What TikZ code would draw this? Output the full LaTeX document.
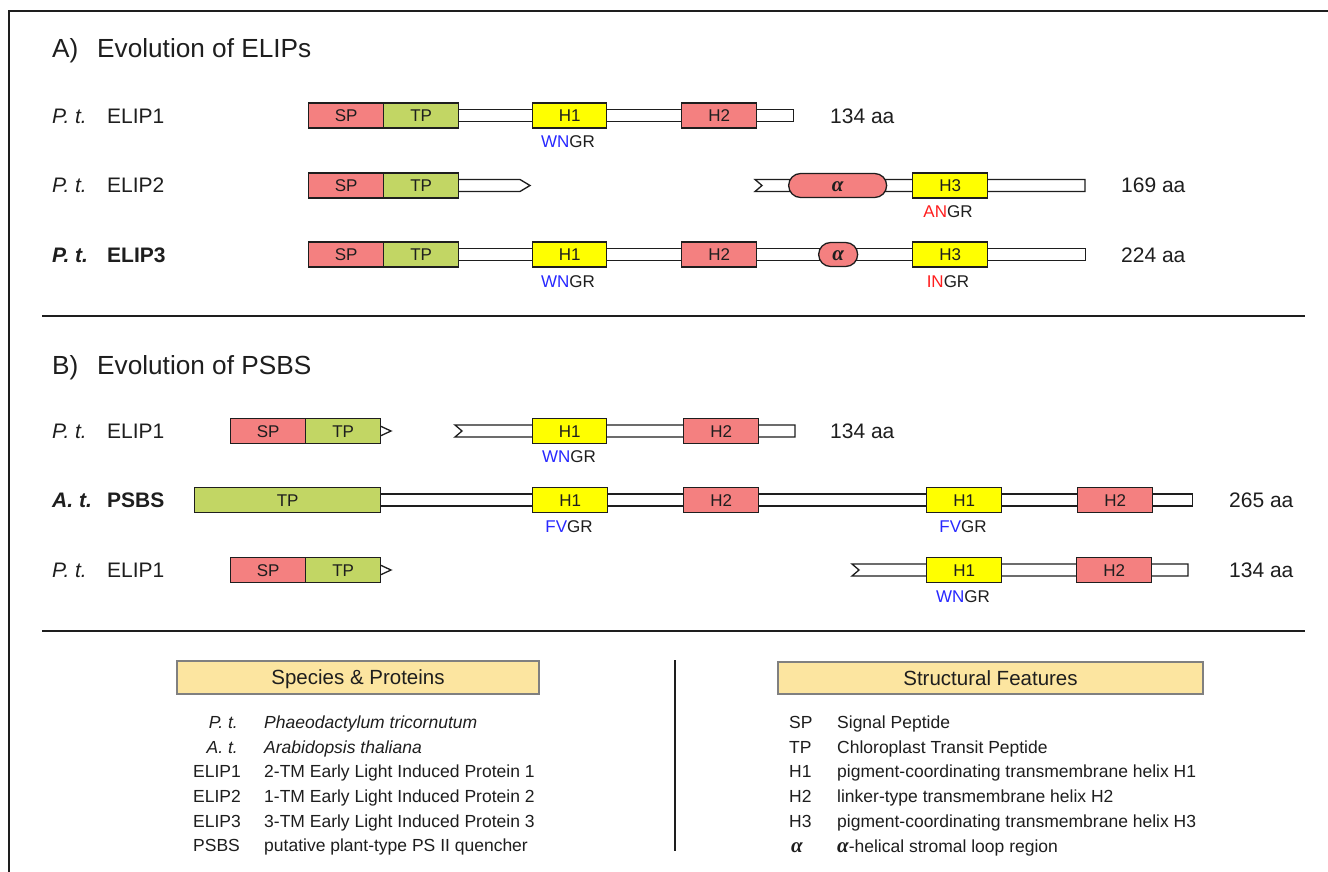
\documentclass[tikz,border=0pt]{standalone}
\usepackage{fontspec}
\setmainfont{Liberation Sans}
\newfontfamily\greekf{Liberation Serif}
\newcommand{\alp}{{\greekf\bfseries\itshape α}}
\definecolor{spc}{RGB}{244,128,128}
\definecolor{tpc}{RGB}{194,214,100}
\definecolor{hyc}{RGB}{255,255,0}
\definecolor{legc}{RGB}{252,229,160}
\definecolor{mblue}{RGB}{40,40,255}
\definecolor{mred}{RGB}{255,30,30}
\definecolor{ink}{RGB}{30,30,30}
\begin{document}
\begin{tikzpicture}[x=1pt,y=-1pt,
  seg/.style={draw=ink, line width=1.3pt, minimum height=25pt, inner sep=0pt, anchor=west,
    font=\fontsize{17}{20}\selectfont, text height=12.2pt, text depth=0pt, text=ink},
  spbox/.style={seg, fill=spc, minimum width=75pt},
  tpbox/.style={seg, fill=tpc, minimum width=75pt},
  hbox/.style={seg, fill=hyc, minimum width=74pt},
  h2box/.style={seg, fill=spc, minimum width=75pt},
  pill/.style={seg, fill=spc, rounded corners=12pt, minimum height=24pt, font=\fontsize{21}{24}\selectfont},
  bar/.style={draw=ink, fill=white, line width=1.3pt, minimum height=12pt, inner sep=0pt, anchor=west},
  barline/.style={draw=ink, fill=white, line width=1.3pt, line join=miter},
  lab/.style={anchor=west, inner sep=0pt, font=\fontsize{21}{25}\selectfont, text height=15pt, text depth=0pt, text=ink},
  ttl/.style={anchor=west, inner sep=0pt, font=\fontsize{26.2}{31}\selectfont, text height=18.8pt, text depth=0pt, text=ink},
  mot/.style={inner sep=0pt, font=\fontsize{17}{20}\selectfont, text height=12.2pt, text depth=0pt, text=ink},
  leg/.style={inner sep=0pt, font=\fontsize{17.5}{21}\selectfont, text height=12.5pt, text depth=0pt, text=ink},
  legbox/.style={draw=gray, line width=1.2pt, fill=legc, inner sep=0pt, font=\fontsize{20.5}{24}\selectfont, text height=14.7pt, text depth=0pt, text=ink},
  sepline/.style={draw=ink, line width=1.3pt}
]
\useasboundingbox (0,0) rectangle (1328,872);
\fill[white] (0,0) rectangle (1328,872);
% frame
\draw[ink, line width=1.5pt] (9,872) -- (9,11) -- (1328,11);

% ---------------- A ----------------
\node[ttl] (ta) at (52,48) {A)};
\node[ttl] (tat) at (97,48) {Evolution of ELIPs};

% Row A1
\node[lab] (a1s) at (52,116) {\itshape P. t.};
\node[lab] (a1n) at (107,116) {ELIP1};
\node[bar, minimum width=335pt] (a1bar) at (458,115.5) {};
\node[spbox] (a1sp) at (308,115.5) {SP};
\node[tpbox] (a1tp) at (383,115.5) {TP};
\node[hbox] (a1h1) at (532,115.5) {H1};
\node[h2box] (a1h2) at (681,115.5) {H2};
\node[mot] (a1m) at (568,141.5) {\textcolor{mblue}{WN}GR};
\node[lab] (a1aa) at (830,116) {134 aa};

% Row A2
\node[lab] (a2s) at (52,185.5) {\itshape P. t.};
\node[lab] (a2n) at (107,185.5) {ELIP2};
\draw[barline] (450,179.5) -- (520,179.5) -- (530,185.5) -- (520,191.5) -- (450,191.5);
\node[spbox] (a2sp) at (308,185.5) {SP};
\node[tpbox] (a2tp) at (383,185.5) {TP};
\draw[barline] (755,179.5) -- (1085,179.5) -- (1085,191.5) -- (755,191.5) -- (762,185.5) -- cycle;
\node[pill, minimum width=98pt] (a2al) at (788,185.5) {\alp};
\node[hbox, minimum width=75pt] (a2h3) at (912,185.5) {H3};
\node[mot] (a2m) at (948,211) {\textcolor{mred}{AN}GR};
\node[lab] (a2aa) at (1121,185.5) {169 aa};

% Row A3
\node[lab] (a3s) at (52,255) {\bfseries\itshape P. t.};
\node[lab] (a3n) at (107,255) {\bfseries ELIP3};
\node[bar, minimum width=627pt] (a3bar) at (458,254.5) {};
\node[spbox] (a3sp) at (308,254.5) {SP};
\node[tpbox] (a3tp) at (383,254.5) {TP};
\node[hbox] (a3h1) at (532,254.5) {H1};
\node[h2box] (a3h2) at (681,254.5) {H2};
\node[pill, minimum width=39pt] (a3al) at (818,254.5) {\alp};
\node[hbox, minimum width=75pt] (a3h3) at (912,254.5) {H3};
\node[mot] (a3m1) at (568,281) {\textcolor{mblue}{WN}GR};
\node[mot] (a3m2) at (948,281) {\textcolor{mred}{IN}GR};
\node[lab] (a3aa) at (1121,255) {224 aa};

\draw[sepline] (42,316) -- (1305,316);

% ---------------- B ----------------
\node[ttl] (tb) at (52,365) {B)};
\node[ttl] (tbt) at (97,365) {Evolution of PSBS};

% Row B1
\node[lab] (b1s) at (52,431) {\itshape P. t.};
\node[lab] (b1n) at (107,431) {ELIP1};
\draw[barline] (378,425) -- (391,431) -- (378,437);
\node[spbox] (b1sp) at (230,431) {SP};
\node[tpbox] (b1tp) at (305,431) {TP};
\draw[barline] (455,425) -- (795,425) -- (795,437) -- (455,437) -- (462,431) -- cycle;
\node[hbox] (b1h1) at (532,431) {H1};
\node[h2box] (b1h2) at (683,431) {H2};
\node[mot] (b1m) at (569,456) {\textcolor{mblue}{WN}GR};
\node[lab] (b1aa) at (830,431) {134 aa};

% Row B2
\node[lab] (b2s) at (52,500) {\bfseries\itshape A. t.};
\node[lab] (b2n) at (107,500) {\bfseries PSBS};
\node[bar, minimum width=812pt] (b2bar) at (380,500) {};
\node[tpbox, minimum width=186pt] (b2tp) at (194,500) {TP};
\node[hbox, minimum width=75pt] (b2h1) at (532,500) {H1};
\node[h2box] (b2h2) at (683,500) {H2};
\node[hbox, minimum width=75pt] (b2h1b) at (926,500) {H1};
\node[h2box] (b2h2b) at (1077,500) {H2};
\node[mot] (b2m1) at (569,526) {\textcolor{mblue}{FV}GR};
\node[mot] (b2m2) at (963,526) {\textcolor{mblue}{FV}GR};
\node[lab] (b2aa) at (1229,500) {265 aa};

% Row B3
\node[lab] (b3s) at (52,570) {\itshape P. t.};
\node[lab] (b3n) at (107,570) {ELIP1};
\draw[barline] (378,564) -- (391,570) -- (378,576);
\node[spbox] (b3sp) at (230,570) {SP};
\node[tpbox] (b3tp) at (305,570) {TP};
\draw[barline] (852,564) -- (1188,564) -- (1188,576) -- (852,576) -- (859,570) -- cycle;
\node[hbox, minimum width=75pt] (b3h1) at (926,570) {H1};
\node[h2box] (b3h2) at (1076,570) {H2};
\node[mot] (b3m) at (963,596) {\textcolor{mblue}{WN}GR};
\node[lab] (b3aa) at (1229,570) {134 aa};

\draw[sepline] (42,631) -- (1305,631);

% ---------------- Legend ----------------
\node[legbox, minimum width=362pt, minimum height=33pt] (lg1) at (358,677.5) {Species \& Proteins};
\node[legbox, minimum width=425pt, minimum height=32pt] (lg2) at (990.5,678) {Structural Features};
\draw[ink, line width=1.3pt] (675,660) -- (675,851);

\node[leg, anchor=east] (l1) at (238,722) {\itshape P. t.};
\node[leg, anchor=east] (l2) at (238,747) {\itshape A. t.};
\node[leg, anchor=west] (l3) at (193,771) {ELIP1};
\node[leg, anchor=west] (l4) at (193,796) {ELIP2};
\node[leg, anchor=west] (l5) at (193,821) {ELIP3};
\node[leg, anchor=west] (l6) at (193,845) {PSBS};
\node[leg, anchor=west] (d1) at (264,722) {\itshape Phaeodactylum tricornutum};
\node[leg, anchor=west] (d2) at (264,747) {\itshape Arabidopsis thaliana};
\node[leg, anchor=west] (d3) at (264,771) {2-TM Early Light Induced Protein 1};
\node[leg, anchor=west] (d4) at (264,796) {1-TM Early Light Induced Protein 2};
\node[leg, anchor=west] (d5) at (264,821) {3-TM Early Light Induced Protein 3};
\node[leg, anchor=west] (d6) at (264,845) {putative plant-type PS II quencher};

\node[leg, anchor=west] (r1) at (789,722) {SP};
\node[leg, anchor=west] (r2) at (789,747) {TP};
\node[leg, anchor=west] (r3) at (789,771) {H1};
\node[leg, anchor=west] (r4) at (789,796) {H2};
\node[leg, anchor=west] (r5) at (789,821) {H3};
\node[leg, anchor=west, font=\fontsize{21}{24}\selectfont] (r6) at (791,846) {\alp};
\node[leg, anchor=west] (e1) at (837,722) {Signal Peptide};
\node[leg, anchor=west] (e2) at (837,747) {Chloroplast Transit Peptide};
\node[leg, anchor=west] (e3) at (837,771) {pigment-coordinating transmembrane helix H1};
\node[leg, anchor=west] (e4) at (837,796) {linker-type transmembrane helix H2};
\node[leg, anchor=west] (e5) at (837,821) {pigment-coordinating transmembrane helix H3};
\node[leg, anchor=west] (e6) at (837,846) {{\fontsize{21}{24}\selectfont\alp}-helical stromal loop region};
\end{tikzpicture}
\end{document}
